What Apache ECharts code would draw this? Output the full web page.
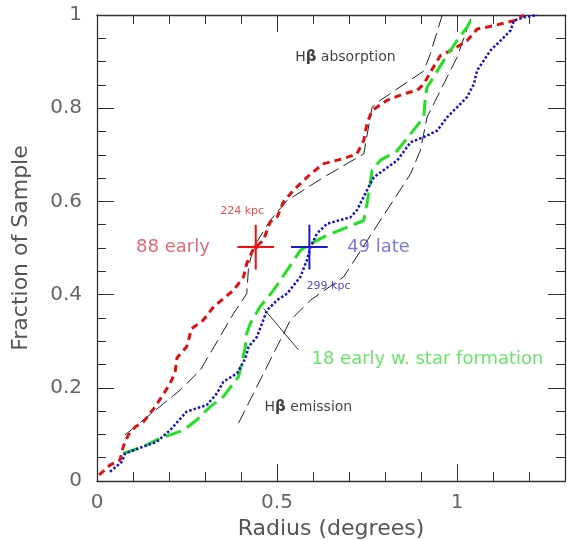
<!DOCTYPE html>
<html><head><meta charset="utf-8">
<script src="https://cdn.jsdelivr.net/npm/echarts@6/dist/echarts.min.js"></script>
<style>html,body{margin:0;padding:0;background:#fff}#c{width:567px;height:540px}</style>
</head><body><div id="c"></div>
<script>
// ---- data ----
var earlyX = [0.006,0.036,0.064,0.073,0.087,0.106,0.129,0.161,0.18,0.203,0.217,0.222,0.249,0.263,0.295,0.324,0.379,0.407,0.416,0.435,0.462,0.481,0.5,0.518,0.546,0.593,0.63,0.685,0.722,0.741,0.75,0.764,0.806,0.852,0.889,0.908,0.926,0.954,0.991,1.028,1.056,1.102,1.158,1.186];
var earlyY = [0.013,0.034,0.045,0.074,0.099,0.116,0.127,0.159,0.181,0.209,0.234,0.264,0.288,0.327,0.345,0.374,0.409,0.438,0.467,0.499,0.516,0.556,0.566,0.599,0.624,0.659,0.681,0.692,0.702,0.731,0.767,0.795,0.817,0.831,0.838,0.852,0.877,0.913,0.927,0.945,0.97,0.977,0.988,1.0];
var lateX = [0.036,0.069,0.078,0.129,0.166,0.203,0.249,0.305,0.333,0.351,0.389,0.412,0.421,0.444,0.472,0.5,0.528,0.565,0.583,0.593,0.611,0.639,0.704,0.722,0.75,0.769,0.796,0.834,0.871,0.908,0.945,0.973,1.0,1.028,1.047,1.056,1.093,1.121,1.149,1.158,1.186,1.223];
var lateY = [0.02,0.041,0.059,0.074,0.084,0.109,0.149,0.163,0.188,0.213,0.231,0.263,0.288,0.309,0.366,0.388,0.402,0.438,0.474,0.502,0.531,0.552,0.566,0.581,0.624,0.652,0.667,0.688,0.727,0.738,0.752,0.781,0.802,0.824,0.852,0.881,0.924,0.945,0.967,0.988,0.995,1.0];
var sfX = [0.073,0.129,0.175,0.203,0.24,0.277,0.314,0.351,0.393,0.402,0.412,0.416,0.426,0.453,0.49,0.528,0.565,0.593,0.63,0.741,0.75,0.759,0.764,0.787,0.834,0.871,0.908,0.912,0.917,0.963,1.0,1.028,1.047];
var sfY = [0.059,0.074,0.092,0.099,0.109,0.131,0.159,0.181,0.224,0.252,0.288,0.317,0.338,0.374,0.409,0.452,0.495,0.509,0.524,0.559,0.595,0.638,0.667,0.688,0.709,0.745,0.781,0.824,0.845,0.902,0.945,0.974,1.0];
var absX = [0.078,0.231,0.287,0.379,0.416,0.421,0.435,0.481,0.528,0.63,0.741,0.764,0.787,0.908,0.926,0.959];
var absY = [0.099,0.195,0.238,0.359,0.402,0.459,0.502,0.559,0.602,0.652,0.702,0.802,0.817,0.88,0.917,1.0];
var emiX = [0.393,0.537,0.593,0.685,0.871,0.898,0.917,1.0,1.042];
var emiY = [0.124,0.345,0.388,0.438,0.659,0.709,0.781,0.909,1.0];
var medianEarly = [0.441, 0.502];   // 224 kpc
var medianLate = [0.59, 0.502];     // 299 kpc
var crossHalfX = 0.051, crossHalfY = 0.048;
var pointerX = [0.463, 0.56];
var pointerY = [0.37, 0.281];
var xTicks = [0, 0.5, 1];
var yTicks = [0, 0.2, 0.4, 0.6, 0.8, 1];
var annotations = [
  {name:'88 early', at:[0.211,0.502], color:'#d8434f', size:18},
  {name:'224 kpc', at:[0.403,0.579], color:'#dd2222', size:11},
  {name:'49 late', at:[0.782,0.502], color:'#5a5ad0', size:18},
  {name:'299 kpc', at:[0.643,0.418], color:'#2222bb', size:11},
  {name:'18 early w. star formation', at:[0.918,0.261], color:'#44dd44', size:18},
  {name:'H{b|β} absorption', at:[0.69,0.909], color:'#111', size:14},
  {name:'H{b|β} emission', at:[0.587,0.159], color:'#111', size:14}
];

function zip(a,b){return a.map(function(v,i){return [v,b[i]];});}
function cross(c){
  return [[c[0]-crossHalfX,c[1]],[c[0]+crossHalfX,c[1]],['-','-'],[c[0],c[1]-crossHalfY],[c[0],c[1]+crossHalfY]];
}
var FONT = 'DejaVu Sans';
function axLine(show){ return {show:show, onZero:false, lineStyle:{color:'#333', width:1.3}}; }
function xa(pos, interval, len, labels, line){
  return {type:'value', position:pos, min:0, max:1.3, interval:interval,
    axisLine: axLine(line),
    axisTick:{show:true, inside:true, length:len, lineStyle:{color:'#333', width:1}},
    axisLabel: labels ? {show:true, margin:12, fontFamily:FONT, fontSize:20, color:'#666',
      showMaxLabel:false, formatter:function(v){return xTicks.indexOf(+v.toFixed(2))>=0 ? String(+v.toFixed(2)) : '';}} : {show:false},
    splitLine:{show:false},
    name: labels ? 'Radius (degrees)' : '', nameLocation:'middle', nameGap:28,
    nameTextStyle:{fontFamily:FONT, fontSize:22, color:'#555'}};
}
function ya(pos, interval, len, labels, line){
  return {type:'value', position:pos, min:0, max:1, interval:interval,
    axisLine: axLine(line),
    axisTick:{show:true, inside:true, length:len, lineStyle:{color:'#333', width:1}},
    axisLabel: labels ? {show:true, margin:15, fontFamily:FONT, fontSize:20, color:'#666',
      formatter:function(v){return yTicks.indexOf(+v.toFixed(2))>=0 ? String(+v.toFixed(2)) : '';}} : {show:false},
    splitLine:{show:false},
    name: labels ? 'Fraction of Sample' : '', nameLocation:'middle', nameGap:65,
    nameTextStyle:{fontFamily:FONT, fontSize:22, color:'#555'}};
}
function line(data, color, width, dash){
  return {type:'line', data:data, showSymbol:false, symbol:'none', silent:true, animation:false,
    lineStyle:{color:color, width:width, type:dash, cap:'butt'}, connectNulls:false};
}
var series = [
  line(zip(absX,absY), '#222', 1, [14,6]),
  line(zip(emiX,emiY), '#222', 1, [14,6]),
  line(zip(earlyX,earlyY), '#e01010', 3, [7,5]),
  line(zip(sfX,sfY), '#22e022', 3, [16,7]),
  line(zip(lateX,lateY), '#1515c8', 2.5, [2.5,2]),
  line(cross(medianEarly), '#ee1111', 2, 'solid'),
  line(cross(medianLate), '#1a1acc', 2, 'solid'),
  line(zip(pointerX,pointerY), '#333', 1, 'solid'),
  {type:'scatter', data:[medianEarly], symbolSize:5, itemStyle:{color:'#ee1111'}, animation:false, silent:true},
  {type:'scatter', data:annotations.map(function(a){return {value:a.at, label:{formatter:a.name, color:a.color, fontSize:a.size}};}),
   symbolSize:0, animation:false, silent:true,
   label:{show:true, position:'inside', fontFamily:FONT, rich:{b:{fontWeight:'bold', fontFamily:FONT, fontSize:15, color:'#111'}}}}
];
var chart = echarts.init(document.getElementById('c'), null, {renderer:'canvas'});
chart.setOption({
  backgroundColor:'#fff', animation:false,
  grid:{left:97, right:2, top:15, bottom:59, containLabel:false, outerBoundsMode:'none'},
  xAxis:[xa('bottom',0.5,17,true,true), xa('bottom',0.1,9,false,false), xa('top',0.5,17,false,true), xa('top',0.1,9,false,false)],
  yAxis:[ya('left',0.2,17,true,true), ya('left',0.05,9,false,false), ya('right',0.2,17,false,true), ya('right',0.05,9,false,false)],
  series:series
});
</script></body></html>
